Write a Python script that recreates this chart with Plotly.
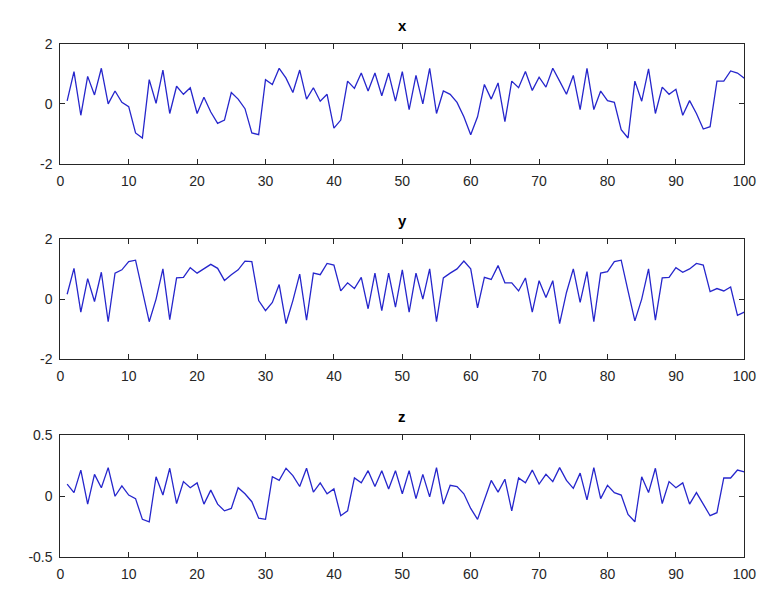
import plotly.graph_objects as go

idx = list(range(1, 101))

x_vals = [0.10, 1.08, -0.38, 0.92, 0.30, 1.19, 0.00, 0.43, 0.05, -0.09,
          -0.97, -1.14, 0.81, 0.02, 1.13, -0.32, 0.59, 0.32, 0.54, -0.32,
          0.22, -0.27, -0.65, -0.54, 0.38, 0.16, -0.16, -0.97, -1.03, 0.81,
          0.65, 1.19, 0.86, 0.38, 1.13, 0.16, 0.54, 0.09, 0.32, -0.81,
          -0.54, 0.76, 0.52, 1.03, 0.43, 1.03, 0.27, 1.03, 0.09, 1.08,
          -0.19, 0.95, 0.00, 1.19, -0.32, 0.43, 0.32, 0.05, -0.43, -1.03,
          -0.43, 0.65, 0.16, 0.70, -0.59, 0.76, 0.54, 1.08, 0.45, 0.89,
          0.56, 1.19, 0.76, 0.32, 0.95, -0.19, 1.19, -0.19, 0.43, 0.11,
          0.05, -0.86, -1.14, 0.76, 0.09, 1.17, -0.32, 0.56, 0.32, 0.49,
          -0.38, 0.11, -0.32, -0.84, -0.76, 0.76, 0.76, 1.10, 1.03, 0.86]

y_vals = [0.16, 1.02, -0.43, 0.68, -0.08, 0.89, -0.75, 0.86, 0.97, 1.24,
          1.29, 0.27, -0.75, 0.00, 1.00, -0.68, 0.70, 0.72, 1.04, 0.86,
          1.02, 1.15, 1.02, 0.62, 0.81, 0.97, 1.26, 1.24, -0.05, -0.38,
          -0.11, 0.48, -0.81, -0.05, 0.83, -0.70, 0.86, 0.81, 1.18, 1.13,
          0.27, 0.54, 0.35, 0.72, -0.32, 0.86, -0.38, 0.86, -0.27, 0.97,
          -0.43, 0.86, 0.00, 1.00, -0.75, 0.70, 0.86, 1.00, 1.26, 1.00,
          -0.29, 0.72, 0.65, 1.11, 0.54, 0.54, 0.27, 0.70, -0.43, 0.61,
          0.05, 0.61, -0.81, 0.22, 1.00, -0.11, 0.91, -0.75, 0.86, 0.91,
          1.24, 1.29, 0.27, -0.72, 0.00, 1.00, -0.70, 0.70, 0.72, 1.04,
          0.89, 1.00, 1.18, 1.13, 0.25, 0.35, 0.27, 0.40, -0.54, -0.43]

z_vals = [0.10, 0.03, 0.215, -0.065, 0.18, 0.07, 0.235, 0.00, 0.085, 0.01,
          -0.02, -0.19, -0.21, 0.16, 0.01, 0.23, -0.06, 0.12, 0.07, 0.11,
          -0.065, 0.05, -0.065, -0.12, -0.10, 0.07, 0.02, -0.045, -0.18, -0.19,
          0.16, 0.13, 0.23, 0.17, 0.08, 0.23, 0.034, 0.11, 0.02, 0.06,
          -0.16, -0.12, 0.15, 0.11, 0.21, 0.08, 0.21, 0.06, 0.21, 0.02,
          0.21, -0.02, 0.18, -0.005, 0.235, -0.065, 0.09, 0.08, 0.02, -0.10,
          -0.19, -0.03, 0.13, 0.034, 0.14, -0.12, 0.15, 0.11, 0.215, 0.10,
          0.18, 0.12, 0.235, 0.13, 0.065, 0.19, -0.03, 0.235, -0.02, 0.09,
          0.03, 0.01, -0.15, -0.21, 0.16, 0.03, 0.23, -0.06, 0.12, 0.07,
          0.11, -0.065, 0.03, -0.065, -0.16, -0.135, 0.15, 0.15, 0.215, 0.20]

titles = ["x", "y", "z"]
y_ranges = [[-2, 2], [-2, 2], [-0.5, 0.5]]
y_ticks = [[-2, 0, 2], [-2, 0, 2], [-0.5, 0, 0.5]]
y_ticktext = [["-2", "0", "2"], ["-2", "0", "2"], ["-0.5", "0", "0.5"]]
x_ticks = list(range(0, 101, 10))

W, H = 771, 605
boxes = [(37, 160), (237, 361), (439, 564)]
xl, xr = 57.5, 756

fig = go.Figure()
series = [x_vals, y_vals, z_vals]
axcol = "#262626"
font = dict(family="Liberation Sans, Arial, sans-serif", size=14, color="#262626")

layout = dict(
    width=W, height=H,
    margin=dict(l=0, r=0, t=0, b=0),
    paper_bgcolor="white", plot_bgcolor="white",
    showlegend=False,
    font=font,
    annotations=[],
)

for k in range(3):
    sfx = "" if k == 0 else str(k + 1)
    fig.add_trace(go.Scatter(
        x=idx, y=series[k], mode="lines",
        line=dict(color="#2626cc", width=1.3),
        xaxis="x" + sfx, yaxis="y" + sfx, hoverinfo="skip"))
    top, bot = boxes[k]
    common = dict(showline=True, linecolor=axcol, linewidth=1, mirror="ticks",
                  ticks="inside", ticklen=5, tickcolor=axcol, tickwidth=1,
                  showgrid=False, zeroline=False, tickfont=font)
    layout["xaxis" + sfx] = dict(
        domain=[xl / W, xr / W], range=[0, 100], tickvals=x_ticks,
        anchor="y" + sfx, ticklabelstandoff=4, **common)
    layout["yaxis" + sfx] = dict(
        domain=[1 - bot / H, 1 - top / H], range=y_ranges[k],
        tickvals=y_ticks[k], ticktext=y_ticktext[k],
        anchor="x" + sfx, ticklabelstandoff=4, **common)
    layout["annotations"].append(dict(
        text="<b>" + titles[k] + "</b>", x=(xl + xr) / 2 / W, xref="paper",
        y=1 - (top - 19) / H, yref="paper", xanchor="center", yanchor="middle",
        showarrow=False,
        font=dict(family="Liberation Sans, Arial, sans-serif", size=15, color="#000000")))

fig.update_layout(**layout)
fig.write_html(
    "out.html",
    config={"displayModeBar": False},
    post_script="document.body.style.margin='0px';document.body.style.overflow='hidden';")
